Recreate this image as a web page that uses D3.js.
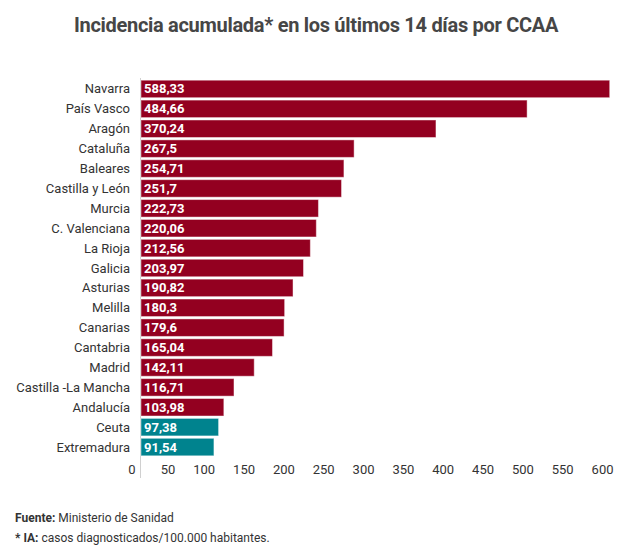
<!DOCTYPE html>
<html>
<head>
<meta charset="utf-8">
<script src="https://cdn.jsdelivr.net/npm/d3@7"></script>
<style>
  body { margin: 0; background: #fff; font-family: Roboto, sans-serif; }
  svg text { font-family: Roboto, sans-serif; }
</style>
</head>
<body>
<div id="chart"></div>
<script>
/* Data */
const regions = ["Navarra", "País Vasco", "Aragón", "Cataluña", "Baleares", "Castilla y León",
  "Murcia", "C. Valenciana", "La Rioja", "Galicia", "Asturias", "Melilla", "Canarias",
  "Cantabria", "Madrid", "Castilla -La Mancha", "Andalucía", "Ceuta", "Extremadura"];
const incidence = [588.33, 484.66, 370.24, 267.5, 254.71, 251.7, 222.73, 220.06, 212.56,
  203.97, 190.82, 180.3, 179.6, 165.04, 142.11, 116.71, 103.98, 97.38, 91.54];
const belowAverage = ["Ceuta", "Extremadura"];
const xTicks = [0, 50, 100, 150, 200, 250, 300, 350, 400, 450, 500, 550, 600];

const rows = regions.map((r, i) => ({ region: r, value: incidence[i] }));

const width = 618, height = 553;
const svg = d3.select("#chart").append("svg")
    .attr("width", width)
    .attr("height", height);

/* Title */
svg.append("text")
    .attr("x", 316)
    .attr("y", 32)
    .attr("text-anchor", "middle")
    .style("font-size", "20px")
    .style("font-weight", "bold")
    .style("letter-spacing", "-0.3px")
    .style("fill", "#464646")
    .text("Incidencia acumulada* en los últimos 14 días por CCAA");

/* Scales */
const x = d3.scaleLinear().domain([0, 600]).range([141, 619]);
const y = d3.scaleBand().domain(regions).range([79, 457]).paddingInner(0.12).paddingOuter(0.06);

/* Baseline */
svg.append("line")
    .attr("x1", x(0) - 0.5).attr("x2", x(0) - 0.5)
    .attr("y1", 78).attr("y2", 478)
    .style("stroke", "#d0d0d0")
    .style("stroke-width", 1);

/* Bars */
svg.selectAll(".bar")
    .data(rows)
    .join("rect")
      .attr("class", "bar")
      .attr("x", x(0))
      .attr("y", d => y(d.region))
      .attr("width", d => x(d.value) - x(0))
      .attr("height", y.bandwidth())
      .style("fill", d => belowAverage.includes(d.region) ? "#00838e" : "#930020")
      .style("stroke", "rgba(255,255,255,0.45)")
      .style("stroke-width", 1);

/* Value labels */
const fmt = v => String(v).replace(".", ",");
svg.selectAll(".val")
    .data(rows)
    .join("text")
      .attr("class", "val")
      .attr("x", x(0) + 3)
      .attr("y", d => y(d.region) + y.bandwidth() / 2)
      .attr("dy", "0.35em")
      .style("font-size", "13px")
      .style("font-weight", "bold")
      .style("fill", "#fff")
      .text(d => fmt(d.value));

/* Category labels */
svg.selectAll(".cat")
    .data(rows)
    .join("text")
      .attr("class", "cat")
      .attr("x", 130)
      .attr("y", d => y(d.region) + y.bandwidth() / 2)
      .attr("dy", "0.35em")
      .attr("text-anchor", "end")
      .style("font-size", "13px")
      .style("fill", "#333")
      .text(d => d.region);

/* X axis */
const xAxis = svg.append("g")
    .attr("transform", "translate(0, 457)")
    .call(d3.axisBottom(x).tickValues(xTicks).tickSize(0).tickPadding(0));
xAxis.select(".domain").remove();
xAxis.selectAll("text")
    .attr("text-anchor", "end")
    .attr("dx", -6)
    .attr("y", 17)
    .attr("dy", 0)
    .style("font-size", "13px")
    .style("font-family", "Roboto, sans-serif")
    .style("fill", "#333");

/* Footer */
const f1 = svg.append("text").attr("x", 15).attr("y", 522)
    .style("font-size", "12px").style("fill", "#333");
f1.append("tspan").style("font-weight", "bold").text("Fuente:");
f1.append("tspan").text(" Ministerio de Sanidad");

const f2 = svg.append("text").attr("x", 15).attr("y", 542)
    .style("font-size", "12px").style("fill", "#333");
f2.append("tspan").style("font-weight", "bold").text("* IA:");
f2.append("tspan").text(" casos diagnosticados/100.000 habitantes.");
</script>
</body>
</html>
